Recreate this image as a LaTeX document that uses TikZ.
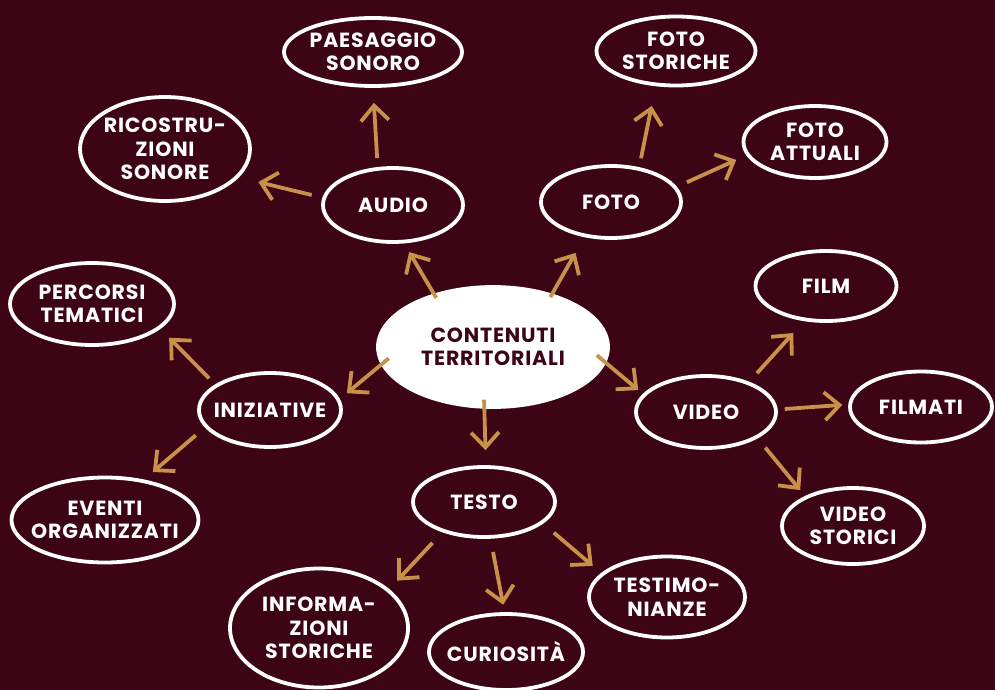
\documentclass[tikz,border=0pt]{standalone}
\usepackage{fontspec}
\setmainfont{Poppins}[LetterSpace=4]
\usetikzlibrary{shapes.geometric,arrows.meta}
\definecolor{bgmaroon}{HTML}{3C0414}
\definecolor{goldarr}{HTML}{C8914A}
\tikzset{
  bubble/.style={ellipse, draw=white, line width=3.8pt, text=white,
    inner xsep=-40pt, inner ysep=-20pt, align=center,
    font=\fontsize{20.5}{23.5}\selectfont\bfseries},
  hub/.style={bubble, fill=white, text=bgmaroon},
  arr/.style 2 args={draw=goldarr, line width=3.8pt,
    -{Straight Barb[length=15pt,width=28pt,line width=3.8pt]},
    shorten <=#1, shorten >=#2},
}
\begin{document}
\begin{tikzpicture}[x=1pt,y=-1pt]
  \fill[bgmaroon] (0,0) rectangle (995,690);
  \useasboundingbox (0,0) rectangle (995,690);

  % central topic
  \node[hub, minimum width=230pt, minimum height=120pt] (centre) at (493,347) {CONTENUTI\\TERRITORIALI};

  % first ring
  \node[bubble, minimum width=140pt, minimum height=74pt] (audio) at (393,205) {AUDIO};
  \node[bubble, minimum width=140pt, minimum height=72pt] (foto) at (611,202) {FOTO};
  \node[bubble, minimum width=142pt, minimum height=74pt] (iniz) at (270,410) {INIZIATIVE};
  \node[bubble, minimum width=142pt, minimum height=70pt] (testo) at (484,502) {TESTO};
  \node[bubble, minimum width=140pt, minimum height=72pt] (video) at (706,412) {VIDEO};

  % audio branch
  \node[bubble, minimum width=178pt, minimum height=68pt] (paes) at (373,52) {PAESAGGIO\\SONORO};
  \node[bubble, minimum width=170pt, minimum height=104pt] (ricos) at (165,149) {RICOSTRU-\\ZIONI\\SONORE};

  % foto branch
  \node[bubble, minimum width=159pt, minimum height=69pt] (fstor) at (676,51) {FOTO\\STORICHE};
  \node[bubble, minimum width=143pt, minimum height=72pt] (fatt) at (815,142) {FOTO\\ATTUALI};

  % iniziative branch
  \node[bubble, minimum width=164pt, minimum height=82pt] (perc) at (92,304) {PERCORSI\\TEMATICI};
  \node[bubble, minimum width=187pt, minimum height=85pt] (event) at (105,520) {EVENTI\\ORGANIZZATI};

  % testo branch
  \node[bubble, minimum width=178pt, minimum height=119pt] (info) at (319,628) {INFORMA-\\ZIONI\\STORICHE};
  \node[bubble, minimum width=154pt, minimum height=76pt] (curio) at (506,652) {CURIOSITÀ};
  \node[bubble, minimum width=156pt, minimum height=81pt] (testim) at (667,597) {TESTIMO-\\NIANZE};

  % video branch
  \node[bubble, minimum width=141pt, minimum height=70pt] (film) at (826,286) {FILM};
  \node[bubble, minimum width=142pt, minimum height=71pt] (filmati) at (921,407) {FILMATI};
  \node[bubble, minimum width=142pt, minimum height=76pt] (vstor) at (853,526) {VIDEO\\STORICI};

  % connectors from the central topic (they start just inside its white fill)
  \draw[arr={-5pt}{10pt}] (centre.138) -- (audio.-74);
  \draw[arr={-4pt}{18pt}] (centre.42) -- (foto.233);
  \draw[arr={-10pt}{9pt}] (centre.189) -- (iniz.9);
  \draw[arr={-9pt}{15pt}] (centre.262) -- (testo.87);
  \draw[arr={-12pt}{6pt}] (centre.352) -- (video.164);
  % second level connectors
  \draw[arr={9pt}{15pt}] (audio.112) -- (paes.270);
  \draw[arr={11pt}{20pt}] (audio.174) -- (ricos.-21);
  \draw[arr={9pt}{20pt}] (foto.51) -- (fstor.240);
  \draw[arr={11pt}{11pt}] (foto.13) -- (fatt.191);
  \draw[arr={8.5pt}{12.5pt}] (iniz.155) -- (perc.-20);
  \draw[arr={12pt}{11.5pt}] (iniz.195) -- (event.46);
  \draw[arr={14.5pt}{11.5pt}] (testo.216) -- (info.29);
  \draw[arr={13.5pt}{7.5pt}] (testo.-80) -- (curio.92);
  \draw[arr={14pt}{11pt}] (testo.-20) -- (testim.160);
  \draw[arr={11.5pt}{16pt}] (video.35) -- (film.238);
  \draw[arr={7pt}{6pt}] (video.2) -- (filmati.178);
  \draw[arr={12pt}{7.5pt}] (video.-27) -- (vstor.148);
\end{tikzpicture}
\end{document}
